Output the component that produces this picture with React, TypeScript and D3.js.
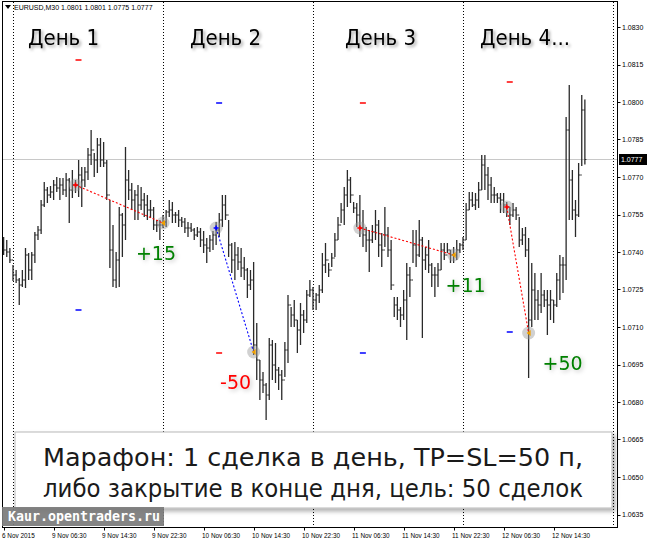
import React from "react";
import * as d3 from "d3";

// ---------- DATA ----------
// M30 bars: 3 bars of 6 Nov, then 9, 10, 11 Nov (48 bars each) and 12 Nov (40 bars)
const highs = [
  1.07460, 1.07448, 1.07416,
  // 9 Nov
  1.07348, 1.07328, 1.07296, 1.07328, 1.07416, 1.07396, 1.07400, 1.07480, 1.07504, 1.07608, 1.07680, 1.07660,
  1.07664, 1.07688, 1.07700, 1.07696, 1.07696, 1.07716, 1.07696, 1.07728, 1.07688, 1.07768, 1.07740, 1.07740,
  1.07816, 1.07888, 1.07796, 1.07856, 1.07856, 1.07840, 1.07768, 1.07608, 1.07508, 1.07400, 1.07580, 1.07556,
  1.07820, 1.07728, 1.07676, 1.07648, 1.07668, 1.07660, 1.07636, 1.07628, 1.07608, 1.07580, 1.07528, 1.07528,
  // 10 Nov
  1.07548, 1.07568, 1.07608, 1.07600, 1.07560, 1.07568, 1.07540, 1.07536, 1.07520, 1.07516, 1.07496, 1.07500,
  1.07496, 1.07484, 1.07456, 1.07468, 1.07484, 1.07520, 1.07556, 1.07628, 1.07628, 1.07528, 1.07436, 1.07440,
  1.07420, 1.07416, 1.07380, 1.07336, 1.07328, 1.07360, 1.07116, 1.06968, 1.06920, 1.06876, 1.07056, 1.07048,
  1.07036, 1.06940, 1.06928, 1.07040, 1.07228, 1.07180, 1.07208, 1.07128, 1.07196, 1.07168, 1.07248, 1.07288,
  // 11 Nov
  1.07260, 1.07236, 1.07268, 1.07396, 1.07436, 1.07356, 1.07396, 1.07476, 1.07540, 1.07596, 1.07660, 1.07728,
  1.07700, 1.07600, 1.07596, 1.07628, 1.07568, 1.07500, 1.07488, 1.07508, 1.07568, 1.07528, 1.07476, 1.07580,
  1.07500, 1.07448, 1.07220, 1.07220, 1.07180, 1.07248, 1.07356, 1.07340, 1.07488, 1.07488, 1.07528, 1.07460,
  1.07420, 1.07448, 1.07356, 1.07340, 1.07356, 1.07436, 1.07436, 1.07436, 1.07408, 1.07420, 1.07448, 1.07436,
  // 12 Nov
  1.07460, 1.07596, 1.07640, 1.07640, 1.07636, 1.07680, 1.07788, 1.07788, 1.07740, 1.07700, 1.07660, 1.07636,
  1.07636, 1.07636, 1.07600, 1.07580, 1.07596, 1.07580, 1.07540, 1.07496, 1.07500, 1.07456, 1.07356, 1.07316,
  1.07248, 1.07316, 1.07248, 1.07248, 1.07248, 1.07208, 1.07316, 1.07388, 1.07380, 1.07940, 1.08068, 1.07728,
  1.07608, 1.07756, 1.08028, 1.08010,
];

const lows = [
  1.07388, 1.07380, 1.07356,
  // 9 Nov
  1.07284, 1.07276, 1.07188, 1.07260, 1.07256, 1.07288, 1.07288, 1.07356, 1.07448, 1.07472, 1.07580, 1.07596,
  1.07616, 1.07608, 1.07640, 1.07608, 1.07628, 1.07620, 1.07516, 1.07616, 1.07636, 1.07620, 1.07580, 1.07660,
  1.07688, 1.07748, 1.07700, 1.07716, 1.07740, 1.07740, 1.07608, 1.07336, 1.07260, 1.07256, 1.07260, 1.07380,
  1.07448, 1.07608, 1.07568, 1.07528, 1.07528, 1.07568, 1.07540, 1.07528, 1.07536, 1.07488, 1.07480, 1.07448,
  // 10 Nov
  1.07496, 1.07500, 1.07540, 1.07516, 1.07516, 1.07500, 1.07500, 1.07476, 1.07460, 1.07480, 1.07448, 1.07460,
  1.07420, 1.07396, 1.07356, 1.07400, 1.07408, 1.07428, 1.07460, 1.07500, 1.07528, 1.07380, 1.07316, 1.07288,
  1.07328, 1.07300, 1.07288, 1.07216, 1.07248, 1.06988, 1.06888, 1.06808, 1.06836, 1.06728, 1.06808, 1.06888,
  1.06876, 1.06848, 1.06808, 1.06900, 1.06956, 1.07100, 1.07100, 1.06996, 1.07028, 1.07076, 1.07116, 1.07220,
  // 11 Nov
  1.07168, 1.07168, 1.07196, 1.07236, 1.07316, 1.07300, 1.07340, 1.07380, 1.07448, 1.07516, 1.07508, 1.07580,
  1.07596, 1.07556, 1.07500, 1.07460, 1.07420, 1.07400, 1.07320, 1.07436, 1.07448, 1.07380, 1.07340, 1.07420,
  1.07380, 1.07248, 1.07140, 1.07128, 1.07100, 1.07128, 1.07048, 1.07220, 1.07356, 1.07340, 1.07380, 1.07056,
  1.07328, 1.07316, 1.07260, 1.07220, 1.07260, 1.07328, 1.07368, 1.07396, 1.07356, 1.07356, 1.07368, 1.07396,
  // 12 Nov
  1.07408, 1.07448, 1.07568, 1.07580, 1.07568, 1.07576, 1.07648, 1.07648, 1.07608, 1.07596, 1.07596, 1.07596,
  1.07556, 1.07556, 1.07540, 1.07508, 1.07540, 1.07528, 1.07420, 1.07428, 1.07380, 1.06896, 1.07100, 1.07128,
  1.07128, 1.07156, 1.07180, 1.07068, 1.07128, 1.07116, 1.07180, 1.07208, 1.07236, 1.07288, 1.07528, 1.07528,
  1.07460, 1.07540, 1.07744, 1.07750,
];

const closes = [
  1.07408, 1.07400, 1.07368,
  // 9 Nov
  1.07308, 1.07288, 1.07268, 1.07288, 1.07388, 1.07328, 1.07388, 1.07468, 1.07488, 1.07588, 1.07648, 1.07628,
  1.07640, 1.07668, 1.07656, 1.07668, 1.07648, 1.07688, 1.07648, 1.07668, 1.07668, 1.07708, 1.07688, 1.07720,
  1.07788, 1.07808, 1.07768, 1.07828, 1.07768, 1.07756, 1.07628, 1.07408, 1.07288, 1.07368, 1.07548, 1.07508,
  1.07688, 1.07648, 1.07608, 1.07628, 1.07588, 1.07608, 1.07588, 1.07568, 1.07568, 1.07508, 1.07508, 1.07508,
  // 10 Nov
  1.07520, 1.07560, 1.07568, 1.07548, 1.07548, 1.07528, 1.07520, 1.07496, 1.07496, 1.07488, 1.07468, 1.07480,
  1.07448, 1.07428, 1.07416, 1.07448, 1.07468, 1.07488, 1.07528, 1.07588, 1.07548, 1.07428, 1.07368, 1.07388,
  1.07360, 1.07336, 1.07328, 1.07268, 1.07288, 1.07028, 1.06968, 1.06888, 1.06868, 1.06828, 1.07028, 1.06948,
  1.06928, 1.06908, 1.06888, 1.07008, 1.07188, 1.07148, 1.07128, 1.07088, 1.07148, 1.07128, 1.07228, 1.07248,
  // 11 Nov
  1.07208, 1.07228, 1.07248, 1.07348, 1.07368, 1.07328, 1.07376, 1.07448, 1.07508, 1.07568, 1.07628, 1.07688,
  1.07628, 1.07576, 1.07548, 1.07496, 1.07468, 1.07448, 1.07448, 1.07480, 1.07508, 1.07428, 1.07408, 1.07468,
  1.07408, 1.07268, 1.07188, 1.07168, 1.07148, 1.07208, 1.07308, 1.07288, 1.07428, 1.07388, 1.07448, 1.07368,
  1.07388, 1.07348, 1.07308, 1.07308, 1.07328, 1.07408, 1.07388, 1.07408, 1.07388, 1.07388, 1.07408, 1.07428,
  // 12 Nov
  1.07448, 1.07568, 1.07608, 1.07588, 1.07608, 1.07648, 1.07748, 1.07708, 1.07668, 1.07628, 1.07628, 1.07616,
  1.07608, 1.07588, 1.07580, 1.07548, 1.07568, 1.07548, 1.07448, 1.07468, 1.07408, 1.07128, 1.07248, 1.07208,
  1.07188, 1.07228, 1.07208, 1.07188, 1.07208, 1.07188, 1.07288, 1.07348, 1.07348, 1.07888, 1.07688, 1.07568,
  1.07548, 1.07708, 1.07968, 1.07770,
];

const priceTicks = [1.0830, 1.0815, 1.0800, 1.0785, 1.0770, 1.0755, 1.0740, 1.0725, 1.0710, 1.0695, 1.0680, 1.0665, 1.0650, 1.0635];
const timeLabels = ["6 Nov 2015", "9 Nov 06:30", "9 Nov 14:30", "9 Nov 22:30", "10 Nov 06:30", "10 Nov 14:30",
  "10 Nov 22:30", "11 Nov 06:30", "11 Nov 14:30", "11 Nov 22:30", "12 Nov 06:30", "12 Nov 14:30"];
const timeLabelBars = [0, 16, 32, 48, 64, 80, 96, 112, 128, 144, 160, 176];
const daySeparatorBars = [3, 51, 99, 147, 195];
const dayLabels = ["День 1", "День 2", "День 3", "День 4..."];

const tradeDirection = ["sell", "buy", "sell", "sell"];
const tradeEntryBar = [23, 68, 114, 161];
const tradeExitBar = [51, 80, 144, 168];
const tradeEntryPrice = [1.07668, 1.07496, 1.07496, 1.07580];
const tradeExitPrice = [1.07516, 1.07000, 1.07388, 1.07076];
const tradeResult = ["+15", "-50", "+11", "+50"];
const stopPips = 0.0050;

const headerText = "EURUSD,M30  1.0801 1.0801 1.0775 1.0777";
const bidPrice = 1.0777;
const noteLines = ["Марафон: 1 сделка в день, TP=SL=50 п,", "либо закрытие в конце дня, цель: 50 сделок"];
const watermark = "Kaur.opentraders.ru";

// ---------- LAYOUT ----------
const W = 650, H = 541;
const frameL = 2.5, frameR = 617.5, frameT = 1.5, frameB = 527.5;
const dayLabelX = [28, 190, 345, 480];
const resultDx = [-7, -18, 12, 34];
const resultDy = 37;

export default function App() {
  const x = d3.scaleLinear().domain([3, 195]).range([13, 613]);
  const y = d3.scaleLinear().domain([1.0635, 1.0830]).range([514.5, 27]);
  const opens = closes.map((c, i) => (i === 0 ? c : closes[i - 1]));
  const fmt = d3.format(".4f");
  const axisFont = "'Liberation Sans', Arial, sans-serif";
  const labelFont = "'DejaVu Sans Condensed', 'DejaVu Sans', sans-serif";

  return (
    <svg width={W} height={H} style={{ position: "absolute", left: 0, top: 0, background: "#fff" }}>
      <defs>
        <filter id="tshadow" x="-20%" y="-30%" width="150%" height="170%">
          <feDropShadow dx="2" dy="2" stdDeviation="1.6" floodColor="#000" floodOpacity="0.35" />
        </filter>
        <filter id="glow" x="-30%" y="-40%" width="170%" height="190%">
          <feDropShadow dx="1.5" dy="1.5" stdDeviation="2" floodColor="#000" floodOpacity="0.25" />
        </filter>
        <filter id="boxshadow" x="-5%" y="-10%" width="115%" height="130%">
          <feDropShadow dx="3" dy="3" stdDeviation="2" floodColor="#000" floodOpacity="0.3" />
        </filter>
        <clipPath id="plot">
          <rect x={frameL} y={frameT} width={frameR - frameL} height={frameB - frameT} />
        </clipPath>
      </defs>
      <rect x={0} y={0} width={W} height={H} fill="#fff" />

      {/* day separators */}
      {daySeparatorBars.map((b, i) => (
        <line key={"sep" + i} x1={Math.round(x(b)) + 0.5} x2={Math.round(x(b)) + 0.5} y1={frameT} y2={frameB}
          stroke="#000" strokeWidth={1.2} strokeDasharray="1.2,1.8" shapeRendering="crispEdges" />
      ))}

      {/* bid line */}
      <line x1={frameL} x2={frameR} y1={y(bidPrice)} y2={y(bidPrice)} stroke="#c8c8c8" strokeWidth={1} />

      {/* bars */}
      <g clipPath="url(#plot)" stroke="#2a2a2a" strokeWidth={1.3}>
        {highs.map((h, i) => {
          const cx = x(i);
          return (
            <g key={"b" + i}>
              <line x1={cx} x2={cx} y1={y(h)} y2={y(lows[i])} />
              <line x1={cx - 1.5} x2={cx} y1={y(opens[i])} y2={y(opens[i])} strokeWidth={1} />
              <line x1={cx} x2={cx + 1.5} y1={y(closes[i])} y2={y(closes[i])} strokeWidth={1} />
            </g>
          );
        })}
      </g>

      {/* trades */}
      {tradeEntryBar.map((eb, i) => {
        const sell = tradeDirection[i] === "sell";
        const col = sell ? "#ff0000" : "#0000ff";
        const ex = x(eb), ey = y(tradeEntryPrice[i]);
        const xx = x(tradeExitBar[i]), xy = y(tradeExitPrice[i]);
        const sl = sell ? tradeEntryPrice[i] + stopPips : tradeEntryPrice[i] - stopPips;
        const tp = sell ? tradeEntryPrice[i] - stopPips : tradeEntryPrice[i] + stopPips;
        return (
          <g key={"t" + i}>
            <line x1={ex} x2={ex + 6} y1={y(sl)} y2={y(sl)} stroke="#ff0000" strokeWidth={1.5} />
            <line x1={ex} x2={ex + 6} y1={y(tp)} y2={y(tp)} stroke="#0000ff" strokeWidth={1.5} />
            <circle cx={ex} cy={ey} r={6.5} fill="#9a9a9a" opacity={0.45} />
            <circle cx={xx} cy={xy} r={6.5} fill="#9a9a9a" opacity={0.45} />
            <line x1={ex} y1={ey} x2={xx} y2={xy} stroke={col} strokeWidth={1.1} strokeDasharray="2,2" />
            <path d={`M${ex - 2.5},${ey}H${ex + 2.5}M${ex},${ey - 2.5}V${ey + 2.5}`} stroke={col} strokeWidth={1.6} />
            <path d={`M${xx - 2},${xy}L${xx + 2},${xy - 3}L${xx + 2},${xy + 3}Z`} fill="#f0a000" />
            <text x={xx + resultDx[i]} y={xy + resultDy} textAnchor="middle" fontFamily="'DejaVu Sans', sans-serif"
              fontSize={19} fill={tradeResult[i].startsWith("-") ? "#ff0000" : "#008000"} filter="url(#glow)">
              {tradeResult[i]}
            </text>
          </g>
        );
      })}

      {/* day labels */}
      {dayLabels.map((d, i) => (
        <text key={"d" + i} x={dayLabelX[i]} y={45} fontFamily={labelFont} fontSize={22} fill="#000" filter="url(#tshadow)">
          {d}
        </text>
      ))}

      {/* header */}
      <path d="M5,5H11L8,9Z" fill="#000" />
      <text x={14} y={10} fontFamily={axisFont} fontSize={7} fill="#000">{headerText}</text>

      {/* frame */}
      <rect x={frameL} y={frameT} width={frameR - frameL} height={frameB - frameT} fill="none" stroke="#000" strokeWidth={1} />

      {/* price axis */}
      {priceTicks.map((p, i) => (
        <g key={"p" + i}>
          <line x1={frameR} x2={frameR + 3} y1={Math.round(y(p)) + 0.5} y2={Math.round(y(p)) + 0.5} stroke="#000" />
          <text x={622} y={y(p) + 2.5} fontFamily={axisFont} fontSize={7} fill="#000">{fmt(p)}</text>
        </g>
      ))}
      <rect x={619} y={y(bidPrice) - 5.5} width={28} height={11} fill="#000" />
      <text x={621} y={y(bidPrice) + 2.5} fontFamily={axisFont} fontSize={7} fill="#fff">{fmt(bidPrice)}</text>

      {/* time axis */}
      {timeLabels.map((t, i) => {
        const tx = Math.round(x(timeLabelBars[i]));
        return (
          <g key={"x" + i}>
            <line x1={tx + 0.5} x2={tx + 0.5} y1={frameB} y2={frameB + 3} stroke="#000" />
            <text x={tx - 2} y={538} fontFamily={axisFont} fontSize={6.4} fill="#000">{t}</text>
          </g>
        );
      })}

      {/* note box */}
      <rect x={15} y={432} width={597} height={76} fill="#fff" stroke="#b8b8b8" strokeWidth={1} filter="url(#boxshadow)" />
      {noteLines.map((l, i) => (
        <text key={"n" + i} x={313} y={466 + i * 31} textAnchor="middle" fontFamily={labelFont}
          fontSize={25} fill="#1a1a1a" textLength={540} lengthAdjust="spacingAndGlyphs">
          {l}
        </text>
      ))}

      {/* watermark */}
      <rect x={2} y={507} width={162} height={19} fill="#7a7a7a" opacity={0.92} />
      <text x={8} y={521} fontFamily="'DejaVu Sans Mono', monospace" fontWeight="bold" fontSize={13.3} fill="#fff">
        {watermark}
      </text>
    </svg>
  );
}
